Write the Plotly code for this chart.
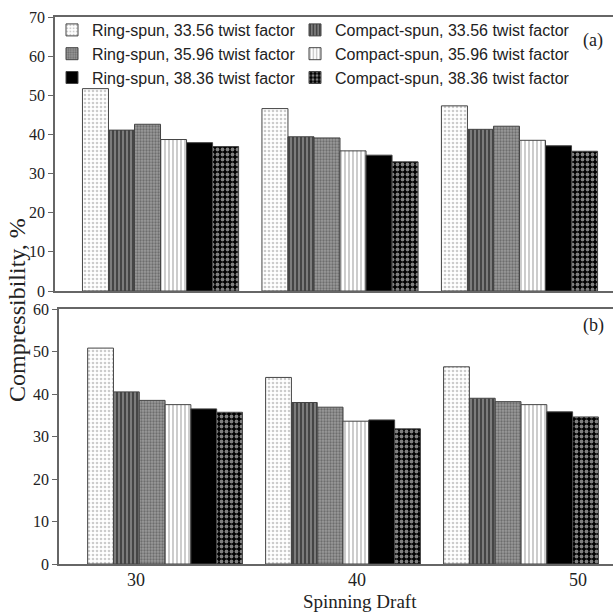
import plotly.graph_objects as go

W = H = 613

draft = [30, 40, 50]
draft_labels = ["30", "40", "50"]
series_names = [
    "Ring-spun, 33.56 twist factor",
    "Compact-spun, 33.56 twist factor",
    "Ring-spun, 35.96 twist factor",
    "Compact-spun, 35.96 twist factor",
    "Ring-spun, 38.36 twist factor",
    "Compact-spun, 38.36 twist factor",
]
# panel (a)
a_ring_3356 = [51.7, 46.6, 47.3]
a_comp_3356 = [41.1, 39.4, 41.3]
a_ring_3596 = [42.6, 39.1, 42.1]
a_comp_3596 = [38.7, 35.8, 38.5]
a_ring_3836 = [37.9, 34.7, 37.1]
a_comp_3836 = [36.9, 33.0, 35.7]
# panel (b)
b_ring_3356 = [50.8, 43.9, 46.4]
b_comp_3356 = [40.5, 38.0, 39.0]
b_ring_3596 = [38.5, 36.9, 38.2]
b_comp_3596 = [37.5, 33.6, 37.5]
b_ring_3836 = [36.5, 33.9, 35.8]
b_comp_3836 = [35.7, 31.8, 34.6]

panel_a = [a_ring_3356, a_comp_3356, a_ring_3596, a_comp_3596, a_ring_3836, a_comp_3836]
panel_b = [b_ring_3356, b_comp_3356, b_ring_3596, b_comp_3596, b_ring_3836, b_comp_3836]

patterns = [
    dict(shape=".", bgcolor="white", fgcolor="#9a9a9a", size=4, solidity=0.35),
    dict(shape="|", bgcolor="#8a8a8a", fgcolor="#000000", size=4, solidity=0.6),
    dict(shape=".", bgcolor="#9a9a9a", fgcolor="#404040", size=3, solidity=0.45),
    dict(shape="|", bgcolor="white", fgcolor="#555555", size=4, solidity=0.3),
    dict(shape="", bgcolor="black", fgcolor="black", size=4, solidity=0.5),
    dict(shape=".", bgcolor="#000000", fgcolor="white", size=5, solidity=0.45),
]
colors = ["white", "#8a8a8a", "#9a9a9a", "white", "black", "#000000"]
legend_ids = ["legend", "legend2", "legend", "legend2", "legend", "legend2"]

fig = go.Figure()
for i, name in enumerate(series_names):
    fig.add_trace(go.Bar(
        x=draft_labels, y=panel_a[i], name=name, xaxis="x", yaxis="y",
        marker=dict(color=colors[i], pattern=patterns[i],
                    line=dict(color="#444444", width=1)),
        showlegend=True, legend=legend_ids[i], legendgroup=name))
for i, name in enumerate(series_names):
    fig.add_trace(go.Bar(
        x=draft_labels, y=panel_b[i], name=name, xaxis="x2", yaxis="y2",
        marker=dict(color=colors[i], pattern=patterns[i],
                    line=dict(color="#444444", width=1)),
        showlegend=False, legendgroup=name))

# invisible carrier for the spinning-draft tick labels
fig.add_trace(go.Scatter(x=draft, y=[0, 0, 0], xaxis="x3", yaxis="y2",
                         mode="markers", marker=dict(opacity=0),
                         showlegend=False, hoverinfo="skip"))

serif = "Liberation Serif, Times New Roman, serif"
sans = "Liberation Sans, Arial, sans-serif"
axcol = "#666666"


def px_x(p):
    return p / W


def px_y(p):
    return 1 - p / H


legend_common = dict(orientation="v", yanchor="top", xanchor="left",
                     font=dict(family=sans, size=16, color="#222222"),
                     bgcolor="rgba(0,0,0,0)", traceorder="normal",
                     tracegroupgap=0)

fig.update_layout(
    width=W, height=H,
    margin=dict(l=0, r=0, t=0, b=0, autoexpand=False),
    paper_bgcolor="white", plot_bgcolor="white",
    barmode="group", bargap=0.13, bargroupgap=0.0,
    font=dict(family=serif, size=15, color="#222222"),
    xaxis=dict(domain=[px_x(55), 1], anchor="y", type="category",
               range=[-0.588, 2.521], showticklabels=False, ticks="",
               showline=True, linecolor=axcol, linewidth=1.5, mirror=True,
               showgrid=False, zeroline=False, automargin=False),
    yaxis=dict(domain=[px_y(291), px_y(17)], anchor="x", range=[0, 70],
               dtick=10, ticks="outside", ticklen=5, tickcolor=axcol,
               showline=True, linecolor=axcol, linewidth=1.5,
               showgrid=False, zeroline=False, automargin=False,
               tickfont=dict(family=serif, size=16, color="#222222")),
    xaxis2=dict(domain=[px_x(59), 1], anchor="y2", type="category",
                range=[-0.596, 2.517], showticklabels=False, ticks="",
                showline=True, linecolor=axcol, linewidth=1.5, mirror=True,
                showgrid=False, zeroline=False, automargin=False),
    yaxis2=dict(domain=[px_y(564), px_y(309)], anchor="x2", range=[0, 60],
                dtick=10, ticks="outside", ticklen=5, tickcolor=axcol,
                showline=True, linecolor=axcol, linewidth=1.5,
                showgrid=False, zeroline=False, automargin=False,
                tickfont=dict(family=serif, size=16, color="#222222")),
    xaxis3=dict(domain=[px_x(59), 1], anchor="y2", overlaying="x2",
                range=[26.52, 51.58], tickvals=draft, ticktext=draft_labels,
                ticks="", showline=False, showgrid=False, zeroline=False,
                ticklabelstandoff=3, automargin=False,
                tickfont=dict(family=serif, size=18, color="#222222")),
    legend=dict(x=px_x(52), y=px_y(13), **legend_common),
    legend2=dict(x=px_x(295), y=px_y(13), **legend_common),
    annotations=[
        dict(text="(a)", x=px_x(593), y=px_y(40), xref="paper", yref="paper",
             xanchor="center", yanchor="middle", showarrow=False,
             font=dict(family=serif, size=18, color="#222222")),
        dict(text="(b)", x=px_x(593), y=px_y(325), xref="paper", yref="paper",
             xanchor="center", yanchor="middle", showarrow=False,
             font=dict(family=serif, size=18, color="#222222")),
        dict(text="Compressibility, %", x=px_x(17), y=px_y(310), xref="paper",
             yref="paper", xanchor="center", yanchor="middle", textangle=-90,
             showarrow=False,
             font=dict(family=serif, size=24, color="#222222")),
        dict(text="Spinning Draft", x=px_x(360), y=px_y(601), xref="paper",
             yref="paper", xanchor="center", yanchor="middle",
             showarrow=False,
             font=dict(family=serif, size=19, color="#222222")),
    ],
)

fig.write_html("out.html")
